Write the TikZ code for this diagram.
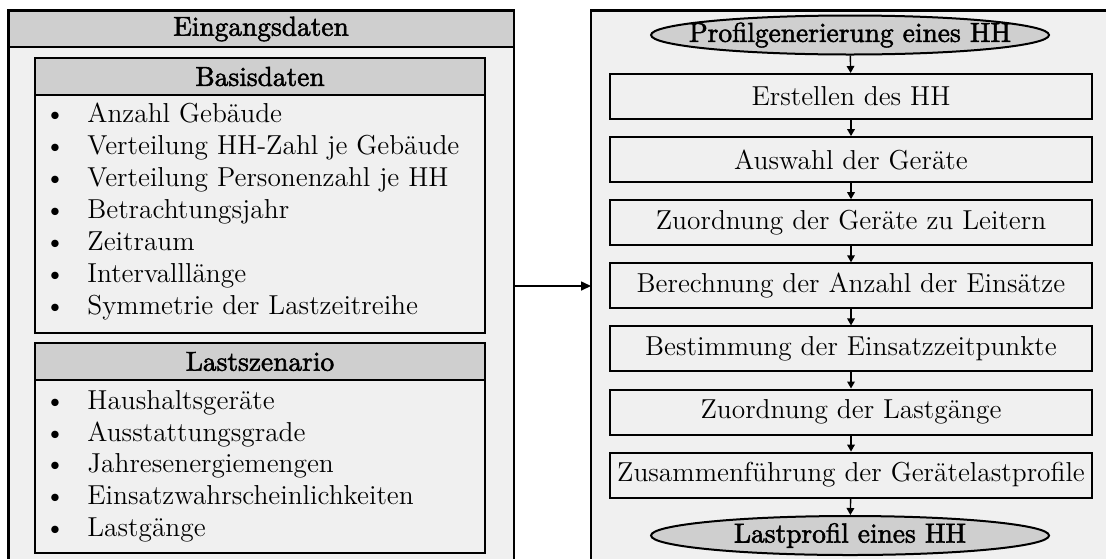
\documentclass[tikz,border=0pt]{standalone}
\usepackage{fontspec}
\newfontfamily\hdfont{lmroman10-regular.otf}[FakeBold=2]
\usetikzlibrary{shapes.geometric,arrows.meta}
\definecolor{hdgray}{HTML}{CFCFCF}
\definecolor{bodygray}{HTML}{F0F0F0}
\begin{document}
\begin{tikzpicture}[x=0.5pt,y=-0.5pt,
  font=\fontsize{13.7}{16}\selectfont,
  frame/.style={draw=black,line width=1.15pt,fill=bodygray},
  panel/.style={draw=black,line width=1pt,fill=bodygray},
  bar/.style={draw=black,line width=1pt,fill=hdgray},
  hdtext/.style={font=\fontsize{13.7}{16}\hdfont},
  bullet/.style={anchor=mid,inner sep=0pt},
  item/.style={anchor=mid west,inner sep=0pt},
  flowbox/.style={draw=black,line width=1pt,fill=bodygray,minimum width=241pt,minimum height=22.5pt,inner sep=0pt},
  terminal/.style={ellipse,draw=black,line width=1pt,fill=hdgray,minimum width=199pt,minimum height=19.5pt,inner sep=0pt,font=\fontsize{13.7}{16}\hdfont},
  flowarrow/.style={line width=0.7pt,-{Triangle[length=3.5pt,width=3.8pt]}},
  mainarrow/.style={line width=0.8pt,-{Triangle[length=5pt,width=4.5pt]}}]
\useasboundingbox (0,0) rectangle (1106,558);
\begin{scope}
\clip (0,0) rectangle (1106,558);
% input data frame (runs past the lower edge)
\draw[frame] (8.5,10.5) rectangle (514,580);
\draw[bar] (8.5,10.5) rectangle (514,47);
\node[hdtext] (eingang) at (261,29) {Eingangsdaten};
% base data panel
\draw[panel] (35,58) rectangle (485,333);
\draw[bar] (35,58) rectangle (485,95);
\node[hdtext] (basis) at (260,76.5) {Basisdaten};
\foreach \t [count=\i from 0] in {Anzahl Gebäude,Verteilung HH-Zahl je Gebäude,Verteilung Personenzahl je HH,Betrachtungsjahr,Zeitraum,Intervalllänge,Symmetrie der Lastzeitreihe}{
  \node[bullet] (bb\i) at (55,118+32*\i) {\textbullet};
  \node[item] (bt\i) at (87,118+32*\i) {\t};
}
% load scenario panel
\draw[panel] (35,343) rectangle (485,553);
\draw[bar] (35,343) rectangle (485,380);
\node[hdtext] (last) at (260,361.5) {Lastszenario};
\foreach \t [count=\i from 0] in {Haushaltsgeräte,Ausstattungsgrade,Jahresenergiemengen,Einsatzwahrscheinlichkeiten,Lastgänge}{
  \node[bullet] (lb\i) at (55,405+31.75*\i) {\textbullet};
  \node[item] (lt\i) at (87,405+31.75*\i) {\t};
}
% profile generation frame (runs past the right and lower edges)
\draw[frame] (591,10.5) rectangle (1120,580);
\end{scope}
% flow chart of the generation steps
\node[terminal] (start) at (850,35) {\makebox[0pt]{Profilgenerierung eines HH}};
\node[flowbox] (s1) at (851,96.5) {Erstellen des HH};
\node[flowbox] (s2) at (851,159.6) {Auswahl der Geräte};
\node[flowbox] (s3) at (851,222.7) {Zuordnung der Geräte zu Leitern};
\node[flowbox] (s4) at (851,285.8) {Berechnung der Anzahl der Einsätze};
\node[flowbox] (s5) at (851,348.9) {Bestimmung der Einsatzzeitpunkte};
\node[flowbox] (s6) at (851,412) {Zuordnung der Lastgänge};
\node[flowbox] (s7) at (851,475.1) {Zusammenführung der Gerätelastprofile};
\node[terminal] (stop) at (850,535.5) {\makebox[0pt]{Lastprofil eines HH}};
\draw[flowarrow] (start) -- (s1);
\draw[flowarrow] (s1) -- (s2);
\draw[flowarrow] (s2) -- (s3);
\draw[flowarrow] (s3) -- (s4);
\draw[flowarrow] (s4) -- (s5);
\draw[flowarrow] (s5) -- (s6);
\draw[flowarrow] (s6) -- (s7);
\draw[flowarrow] (s7) -- (stop);
% link from the input data to the generation frame
\coordinate (inEdge) at (514,286);
\coordinate (genEdge) at (591,286);
\draw[mainarrow] (inEdge) -- (genEdge);
\end{tikzpicture}
\end{document}
